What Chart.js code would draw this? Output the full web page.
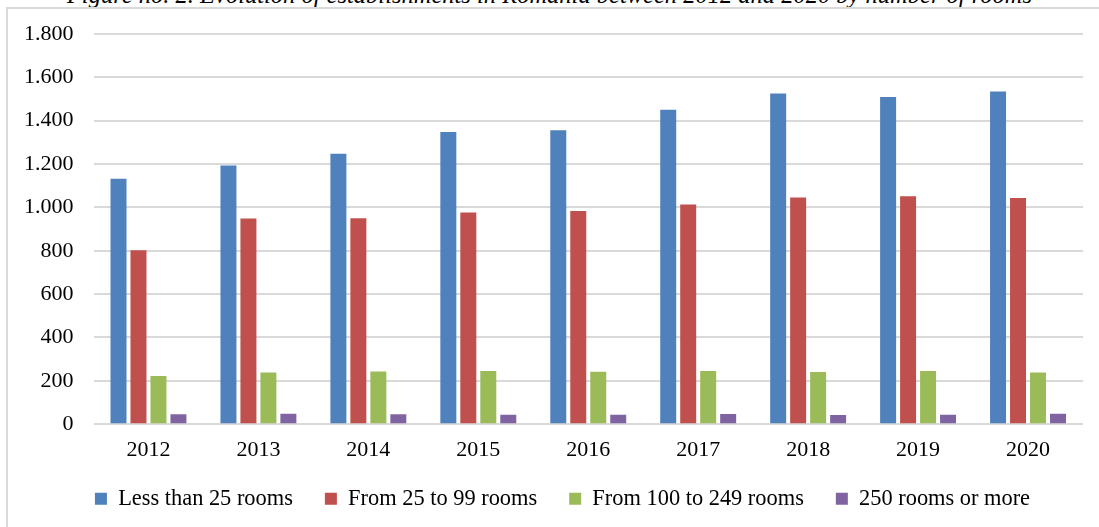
<!DOCTYPE html>
<html>
<head>
<meta charset="utf-8">
<script src="https://cdn.jsdelivr.net/npm/chart.js@4"></script>
<style>
	html, body { margin: 0; padding: 0; background: #fff; overflow: hidden; }
	#wrap { position: relative; width: 1099px; height: 527px; }
	#caption {
		position: absolute; left: 0; top: -17px; width: 1099px; text-align: center;
		font: italic 24.5px 'Liberation Serif', 'Times New Roman', serif; line-height: 24px;
		color: #000; white-space: nowrap;
	}
	#frame {
		position: absolute; left: 6px; top: 7px; width: 1200px; height: 600px;
		border-left: 2px solid #d9d9d9; border-top: 2px solid #d9d9d9;
	}
	#chartBox { position: absolute; left: 0; top: 0; width: 1099px; height: 527px; }
</style>
</head>
<body>
<div id="wrap">
	<div id="caption">Figure no. 2. Evolution of establishments in Romania between 2012 and 2020 by number of rooms</div>
	<div id="frame"></div>
	<div id="chartBox"><canvas id="roomsChart"></canvas></div>
</div>
<script>
const years = ['2012', '2013', '2014', '2015', '2016', '2017', '2018', '2019', '2020'];
const lessThan25 = [1132, 1193, 1248, 1348, 1356, 1451, 1525, 1509, 1535];
const from25to99 = [802, 949, 950, 977, 984, 1013, 1046, 1052, 1043];
const from100to249 = [222, 239, 243, 245, 242, 245, 241, 245, 239];
const over250 = [46, 48, 46, 44, 44, 47, 43, 44, 48];
const seriesNames = ['Less than 25 rooms', 'From 25 to 99 rooms', 'From 100 to 249 rooms', '250 rooms or more'];
const seriesColors = ['#4f81bd', '#c0504d', '#9bbb59', '#8064a2'];

const serif = "'Liberation Serif', 'Times New Roman', serif";
const LEGEND_GAP = 13;
const LEGEND_DX = 19;

const makeDataset = (label, data, color) => ({
	label: label,
	data: data,
	backgroundColor: color,
	borderWidth: 0,
	barPercentage: 0.8,
	categoryPercentage: 0.727,
});

// legend padding is big for the horizontal spacing, so shrink its box
// and draw it a bit higher, otherwise it sits too far from the axis
const tightLegend = {
	id: 'tightLegend',
	beforeUpdate(chart) {
		const legend = chart.legend;
		if (!legend || legend._tight) return;
		legend._tight = true;
		const fit = legend.fit;
		legend.fit = function () {
			fit.call(this);
			this.height -= LEGEND_GAP;
		};
		const draw = legend.draw;
		legend.draw = function () {
			const c = this.ctx;
			c.save();
			c.translate(LEGEND_DX, -LEGEND_GAP);
			draw.apply(this, arguments);
			c.restore();
		};
	},
};

const dataBar = {
	labels: years,
	datasets: [
		makeDataset(seriesNames[0], lessThan25, seriesColors[0]),
		makeDataset(seriesNames[1], from25to99, seriesColors[1]),
		makeDataset(seriesNames[2], from100to249, seriesColors[2]),
		makeDataset(seriesNames[3], over250, seriesColors[3]),
	],
};

const config = {
	type: 'bar',
	data: dataBar,
	plugins: [tightLegend],
	options: {
		responsive: true,
		maintainAspectRatio: false,
		animation: false,
		layout: { padding: { top: 34, left: 4, right: 16, bottom: 7 } },
		plugins: {
			tooltip: { enabled: false },
			legend: {
				position: 'bottom',
				labels: {
					boxWidth: 12,
					boxHeight: 12,
					padding: 32,
					color: '#000',
					font: { family: serif, size: 22.4 },
				},
			},
		},
		scales: {
			x: {
				grid: { display: false },
				border: { display: false },
				ticks: { color: '#000', padding: 5, font: { family: serif, size: 22 } },
			},
			y: {
				min: 0,
				max: 1800,
				border: { display: false },
				grid: { color: '#d9d9d9', lineWidth: 2, drawTicks: false },
				ticks: {
					stepSize: 200,
					color: '#000',
					padding: 20,
					font: { family: serif, size: 22 },
					callback: (v) => v.toString().replace(/\B(?=(\d{3})+(?!\d))/g, '.'),
				},
			},
		},
	},
};

const ctx = document.getElementById('roomsChart').getContext('2d');
const myChart = new Chart(ctx, config);
</script>
</body>
</html>
